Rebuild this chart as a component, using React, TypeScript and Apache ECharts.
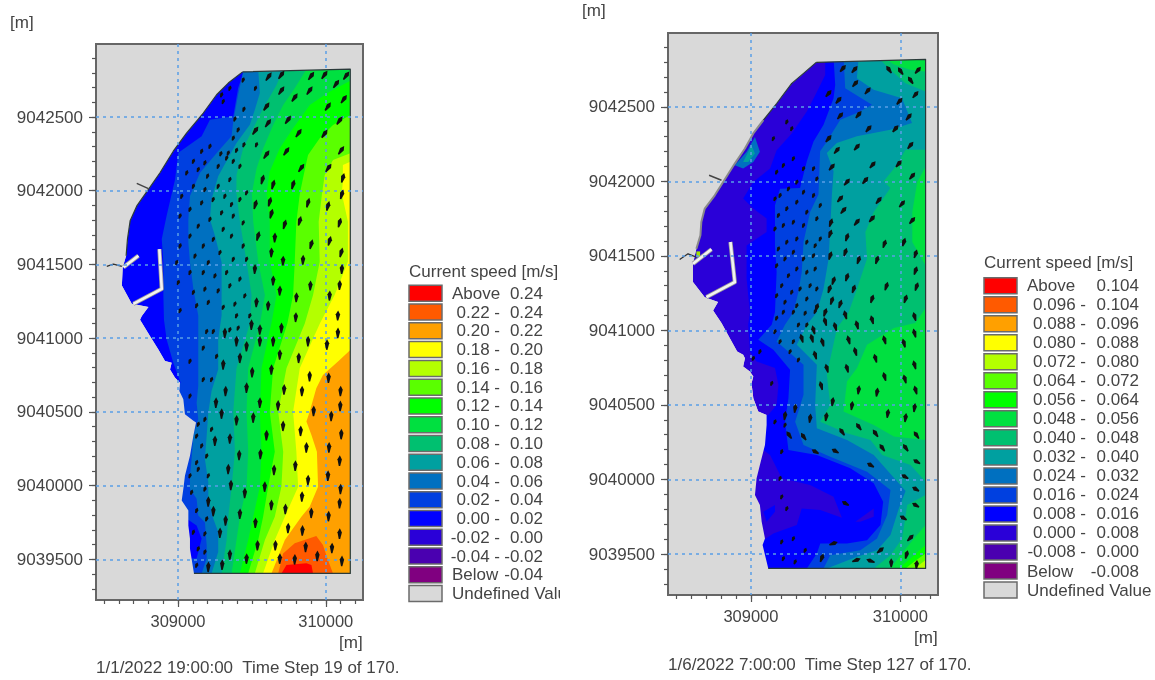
import React, { useEffect, useRef } from "react";
import * as echarts from "echarts";

// All map data are metres east / north of this origin.
const X0 = 309000;
const Y0 = 9040000;
type P = number[];

const COL = {
  red: "#ff0000", c22: "#ff5a00", c20: "#ffa000", c18: "#ffff00", c16: "#b4ff00", c14: "#5aff00",
  c12: "#00ff00", c10: "#00e040", c08: "#00c070", c06: "#00a0a0", c04: "#0070c0", c02: "#0040e0",
  c00: "#0000ff", m02: "#2a00d8", m04: "#4a00b0", below: "#800080", undef: "#d9d9d9",
};
const LEGEND_COLORS = [COL.red, COL.c22, COL.c20, COL.c18, COL.c16, COL.c14, COL.c12, COL.c10, COL.c08, COL.c06, COL.c04, COL.c02, COL.c00, COL.m02, COL.m04, COL.below, COL.undef];

const LEGEND_A = [["Above", "0.24"], ["0.22 -", "0.24"], ["0.20 -", "0.22"], ["0.18 -", "0.20"], ["0.16 -", "0.18"], ["0.14 -", "0.16"], ["0.12 -", "0.14"], ["0.10 -", "0.12"], ["0.08 -", "0.10"], ["0.06 -", "0.08"], ["0.04 -", "0.06"], ["0.02 -", "0.04"], ["0.00 -", "0.02"], ["-0.02 -", "0.00"], ["-0.04 -", "-0.02"], ["Below", "-0.04"]];
const LEGEND_B = [["Above", "0.104"], ["0.096 -", "0.104"], ["0.088 -", "0.096"], ["0.080 -", "0.088"], ["0.072 -", "0.080"], ["0.064 -", "0.072"], ["0.056 -", "0.064"], ["0.048 -", "0.056"], ["0.040 -", "0.048"], ["0.032 -", "0.040"], ["0.024 -", "0.032"], ["0.016 -", "0.024"], ["0.008 -", "0.016"], ["0.000 -", "0.008"], ["-0.008 -", "0.000"], ["Below", "-0.008"]];

const X_LABELS = [309000, 310000];
const Y_LABELS = [9039500, 9040000, 9040500, 9041000, 9041500, 9042000, 9042500];
const X_MINOR = [308500, 308600, 308700, 308800, 308900, 309000, 309100, 309200, 309300, 309400, 309500, 309600, 309700, 309800, 309900, 310000, 310100, 310200];
const Y_MINOR = [9039300, 9039400, 9039500, 9039600, 9039700, 9039800, 9039900, 9040000, 9040100, 9040200, 9040300, 9040400, 9040500, 9040600, 9040700, 9040800, 9040900, 9041000, 9041100, 9041200, 9041300, 9041400, 9041500, 9041600, 9041700, 9041800, 9041900, 9042000, 9042100, 9042200, 9042300, 9042400, 9042500, 9042600, 9042700, 9042800, 9042900];

// ---------- left map ----------
const A_RIGHT = 1166, A_BOTTOM = -595, A_TOP = 2824;
const A_COAST: P[] = [[437,2806],[340,2730],[261,2651],[171,2527],[59,2392],[-32,2268],[-122,2122],[-200,2009],[-279,1897],[-324,1796],[-342,1672],[-351,1559],[-374,1481],[-380,1357],[-313,1233],[-200,1211],[-245,1150],[-257,1126],[-189,1014],[-133,923],[-88,845],[-43,833],[-54,788],[-20,732],[14,698],[9,642],[36,586],[47,485],[104,440],[122,428],[104,338],[81,203],[47,68],[36,-22],[25,-100],[70,-168],[70,-269],[81,-359],[81,-427],[108,-595]];
const A_C02: P[] = [[452,2830],[407,2696],[374,2505],[216,2482],[160,2370],[2,2257],[-20,2077],[-77,1830],[-110,1672],[-99,1515],[-99,1290],[-95,1126],[-77,991],[-32,833],[2,743],[18,698],[-300,698],[-300,-700]];
const A_C04: P[] = [[446,2830],[407,2651],[374,2471],[362,2370],[272,2268],[149,2122],[81,1964],[70,1807],[70,1649],[81,1515],[104,1334],[137,1154],[137,991],[137,833],[137,676],[126,563],[137,451],[104,338],[92,181],[81,68],[81,-22],[126,-89],[137,-202],[182,-247],[194,-404],[194,-494],[160,-595]];
const A_C06: P[] = [[542,2830],[554,2662],[520,2550],[486,2448],[396,2324],[272,2099],[227,1942],[216,1807],[250,1694],[295,1515],[295,1334],[295,1154],[272,991],[272,788],[227,642],[205,496],[194,338],[182,181],[205,23],[205,-89],[239,-224],[272,-314],[272,-449],[227,-595]];
const A_C08: P[] = [[714,2830],[667,2717],[577,2559],[509,2424],[441,2288],[396,2107],[395,1990],[419,1790],[464,1519],[498,1293],[486,1100],[396,796],[374,502],[385,231],[363,-7],[340,-210],[329,-368],[295,-594]];
const A_C10: P[] = [[874,2830],[790,2695],[712,2582],[644,2446],[577,2288],[532,2152],[500,1983],[509,1790],[543,1519],[588,1293],[555,1100],[475,796],[464,502],[475,231],[464,-7],[419,-210],[396,-368],[363,-594]];
const A_C12: P[] = [[1166,2745],[1026,2672],[892,2582],[779,2424],[689,2288],[621,2130],[600,1983],[621,1790],[621,1519],[667,1293],[632,1100],[565,796],[554,502],[565,231],[554,-7],[509,-210],[475,-368],[419,-594]];
const A_C14: P[] = [[1166,2514],[1049,2446],[959,2356],[880,2243],[846,2085],[825,1983],[801,1790],[790,1519],[779,1293],[740,1100],[644,796],[621,502],[655,231],[610,-7],[576,-210],[543,-368],[475,-594]];
const A_C16: P[] = [[1166,2254],[1049,2209],[993,2107],[975,1983],[952,1790],[959,1519],[914,1293],[858,1100],[734,796],[678,502],[712,231],[700,-7],[655,-210],[588,-368],[520,-594]];
const A_C18: P[] = [[1166,2197],[1116,2175],[1116,2062],[1108,1983],[1150,1790],[1150,1519],[1060,1293],[960,1100],[824,796],[779,502],[801,231],[813,-7],[723,-210],[655,-368],[576,-594]];
const A_C20: P[] = [[1166,920],[1094,853],[981,751],[936,661],[891,502],[869,435],[903,344],[940,231],[948,-7],[891,-142],[835,-210],[723,-368],[633,-594]];
const A_C22: P[] = [[678,-595],[711,-459],[790,-391],[936,-341],[981,-402],[1015,-504],[1049,-595]];
const A_C24: P[] = [[700,-595],[734,-538],[869,-526],[903,-538],[914,-595]];
const A_BLUE_PATCH: P[] = [[59,-224],[126,-269],[160,-359],[126,-494],[70,-494]];
const A_WALL_1: P[] = [[-369,1481],[-268,1559]];
const A_WALL_2: P[] = [[-126,1604],[-110,1334],[-302,1233]];
const A_JETTY: P[] = [[-482,1487],[-437,1503],[-380,1487]];
const A_GROIN: P[] = [[-279,2050],[-200,2014]];

const A_ARROWS_NE: P[] = [[902,2779],[992,2786],[1139,2781],[1071,2725],[891,2680],[790,2633],[1123,2622],[1015,2572],[1094,2477],[992,2387],[817,2392],[745,2482],[1105,2275],[734,2268],[1019,2156],[835,2156],[599,2246],[610,2459],[700,2680],[700,2786],[614,2775],[599,2572],[524,2408]];
const A_ARROWS_MID: P[] = [[1116,2088],[779,2043],[644,2043],[572,2077],[1109,1976],[880,1919],[1015,1897],[621,1926],[524,1908],[1094,1784],[824,1796],[722,1773],[632,1845],[902,1638],[1026,1661],[1105,1582],[542,1694]];
const A_ARROWS_N: P[] = [[655,1683],[846,1532],[632,1582],[711,1526],[1109,1469],[1094,1361],[896,1357],[644,1391],[801,1278],[689,1323],[1026,1289],[531,1244],[610,1222],[520,1469],[1082,1154],[797,1143]];
const A_ARROWS_S: P[] = [[1082,1036],[1008,957],[880,980],[700,1070],[554,1059],[497,1092],[644,980],[554,980],[464,946],[396,980],[317,1036],[689,890],[817,867],[419,867],[306,822],[632,788],[502,770],[891,743],[1019,732],[1100,642],[839,642],[718,653],[464,665],[322,642],[257,563],[918,507],[1098,541],[677,545],[554,563],[295,489],[1037,473],[509,462],[396,444],[711,406],[830,372],[1105,350],[599,343],[351,320],[250,305],[1022,260],[869,260],[1094,170],[794,136],[558,215],[414,208],[650,107],[340,113],[1015,68],[880,39],[1100,-22],[587,-6],[358,5],[452,-49],[839,-73],[1094,-118],[632,-130],[727,-157],[205,-107],[239,-172],[902,-184],[1019,-206],[419,-190],[322,-235],[1094,-325],[842,-303],[745,-287],[524,-251],[284,-319],[1042,-422],[659,-404],[538,-404],[351,-467],[943,-476],[864,-415],[689,-494],[790,-499],[1109,-510],[464,-494],[299,-535],[205,-550]];
const A_ARROWS_SMALL: P[] = [[441,2752],[524,2696],[446,2554],[385,2487],[407,2414],[374,2358],[446,2313],[396,2275],[340,2257],[290,2252],[531,2313],[419,2167],[374,2201],[464,1987],[419,1942],[362,1908],[295,2651],[351,2696],[306,2606],[216,2302],[160,2268],[104,2201],[182,2190],[272,2167],[329,2223],[137,2145],[200,2100],[59,2122],[25,1964],[104,2032],[182,2009],[272,2032],[351,2077],[317,1964],[238,1942],[160,1919],[81,1875],[295,1852],[374,1830],[441,1784],[216,1807],[137,1762],[14,1830],[306,1740],[239,1672],[362,1694],[441,1627],[171,1627],[81,1694],[14,1627],[284,1582],[374,1537],[205,1515],[115,1559],[464,1537],[-9,1515],[329,1447],[250,1424],[171,1447],[81,1447],[2,1379],[419,1402],[351,1357],[272,1323],[182,1334],[104,1312],[452,1289],[385,1233],[306,1211],[205,1244],[126,1222],[14,1188],[486,1154],[396,1154],[407,1070],[351,1059],[239,1047],[194,1047],[171,935],[261,878],[81,845],[171,721],[227,721],[81,609],[137,417],[182,451],[126,338],[160,271],[227,383],[126,158],[194,203],[81,68],[137,113],[205,68],[182,-22],[92,-44],[126,-168],[194,-224],[104,-314],[182,-325],[137,-427],[182,-449],[126,-539]];

// ---------- right map ----------
const B_RIGHT = 1169, B_BOTTOM = -597, B_TOP = 2818;
const B_COAST: P[] = [[437,2798],[352,2724],[273,2657],[172,2522],[83,2410],[16,2321],[-40,2220],[-108,2119],[-186,1996],[-242,1906],[-309,1817],[-332,1727],[-338,1638],[-365,1548],[-388,1447],[-388,1324],[-309,1223],[-220,1190],[-253,1134],[-197,1049],[-141,948],[-92,859],[-52,836],[-40,814],[-52,758],[-7,724],[16,691],[4,646],[16,545],[49,456],[105,433],[105,366],[94,232],[60,97],[38,8],[27,-104],[60,-172],[72,-284],[94,-396],[78,-440],[116,-597]];
const B_C1: P[] = [[497,2830],[497,2714],[430,2578],[374,2469],[273,2320],[172,2209],[128,2086],[16,1996],[-52,1884],[16,1817],[105,1750],[105,1660],[-29,1570],[-29,1346],[-7,1122],[-18,1038],[-7,859],[38,792],[161,747],[184,635],[172,500],[116,433],[-300,433],[-300,-700]];
const B_LOW_1: P[] = [[-7,209],[83,198],[128,164],[206,8],[396,-37],[553,-116],[609,-257],[464,-205],[340,-194],[307,-306],[150,-362],[83,-407],[-7,-418]];
const B_LOW_2: P[] = [[699,-284],[822,-194],[822,-250],[732,-284]];
const B_BLUE_SPOT: P[] = [[83,-216],[161,-172],[161,-216],[105,-284]];
const B_C2: P[] = [[553,2830],[564,2647],[553,2558],[486,2380],[419,2268],[374,2134],[329,1956],[195,1951],[161,1839],[161,1570],[172,1391],[161,1122],[139,1038],[49,937],[150,870],[262,736],[251,545],[228,388],[251,198],[441,164],[665,75],[822,-26],[885,-149],[867,-306],[777,-407],[643,-429],[464,-429],[441,-496],[374,-597]];
const B_C3: P[] = [[620,2830],[631,2625],[810,2514],[709,2458],[598,2413],[508,2268],[463,2201],[452,1911],[396,1794],[352,1593],[340,1391],[318,1257],[284,1122],[228,1038],[172,926],[352,769],[352,568],[296,388],[352,232],[531,153],[777,52],[934,-71],[912,-239],[844,-396],[732,-474],[531,-508],[486,-597]];
const B_C4: P[] = [[721,2830],[709,2692],[821,2614],[1011,2558],[1078,2391],[933,2346],[709,2302],[575,2257],[508,2190],[553,2068],[542,1911],[520,1481],[486,1279],[441,1122],[374,1038],[307,904],[441,769],[430,500],[441,344],[643,265],[822,164],[1035,-77],[990,-194],[934,-373],[844,-474],[710,-519],[508,-597]];
const B_C5: P[] = [[1169,2212],[1034,2212],[978,2112],[888,2000],[933,1956],[822,1794],[766,1660],[777,1481],[710,1279],[654,1122],[576,1016],[542,859],[508,702],[531,500],[464,388],[643,310],[800,265],[878,164],[1068,97],[1169,-15]];
const B_C5_LOW: P[] = [[1169,-104],[1046,-172],[1012,-396],[934,-508],[822,-597],[1169,-597]];
const B_C5_TOP: P[] = [[855,2825],[933,2748],[1034,2658],[1169,2603],[1169,2825]];
const B_C6_TOP: P[] = [[900,2825],[955,2786],[1067,2748],[1169,2736],[1169,2825]];
const B_C6_STRIP: P[] = [[1169,2097],[1113,1996],[1080,1794],[1080,1593],[1169,1436]];
const B_C6_MAIN: P[] = [[777,904],[710,747],[643,657],[620,456],[822,366],[957,288],[1169,265],[1169,1150],[1100,1050],[957,1016]];
const B_C6_LOW: P[] = [[1169,-306],[1091,-396],[1001,-508],[934,-597],[1169,-597]];
const B_C7_LOW: P[] = [[1169,-440],[1068,-530],[990,-597],[1169,-597]];
const B_C8_LOW: P[] = [[1169,-496],[1091,-552],[1035,-597],[1169,-597]];
const B_C9_LOW: P[] = [[1169,-541],[1124,-575],[1102,-597],[1169,-597]];
const B_SPOT_1: P[] = [[-108,2108],[-29,2198],[27,2298],[60,2198],[16,2130],[-52,2086]];
const B_SPOT_2: P[] = [[-52,2130],[4,2242],[27,2186],[-18,2130]];
const B_SPOT_3: P[] = [[-365,1530],[-340,1530],[-340,1490],[-365,1490]];
const B_WALL_1: P[] = [[-388,1447],[-264,1544]];
const B_WALL_2: P[] = [[-137,1593],[-108,1324],[-298,1223]];
const B_JETTY: P[] = [[-477,1476],[-421,1514],[-365,1492]];
const B_GROIN: P[] = [[-280,2041],[-197,2007]];
const B_SHORE: P[] = [[83,2410],[16,2321],[-40,2220],[-108,2119],[-186,1996],[-242,1906],[-309,1817],[-332,1727],[-338,1638],[-365,1548]];

const B_ARROWS_NW: P[] = [[923,2751],[1001,2740],[1068,2679]];
const B_ARROWS_NE: P[] = [[1118,2746],[1102,2583],[995,2538],[1057,2433],[788,2354],[968,2354],[1068,2242],[710,2231],[576,2209],[721,2448],[782,2608],[699,2657],[587,2545],[598,2440],[520,2287],[694,2751],[616,2758],[520,2590],[990,2119],[815,2112],[1080,2036],[766,2007],[643,1996],[542,2097],[598,1884],[856,1873],[1012,1850],[620,1806],[1080,1738],[811,1750],[710,1727]];
const B_ARROWS_NNE: P[] = [[1024,1593],[894,1582],[643,1626],[531,1649],[535,1723],[1102,1514],[844,1474],[721,1474],[632,1526],[531,1503],[1102,1402],[907,1297],[1109,1295],[1035,1212],[811,1212],[688,1279],[643,1358],[553,1335],[526,1279],[542,1201],[598,1178],[497,1122],[441,1156]];
const B_ARROWS_NNW: P[] = [[1095,1094],[811,1072],[632,1105],[710,1038],[497,1060],[419,1004],[564,1027],[1095,982],[894,937],[1024,915],[654,937],[479,922],[408,948],[340,948],[699,859],[833,814],[430,836],[1095,769],[643,747],[508,747],[894,691],[1030,675],[470,630],[1102,601]];
const B_ARROWS_N: P[] = [[721,601],[844,586],[547,523],[676,496],[1095,483],[916,444],[1035,415],[504,422],[396,411],[296,478],[228,429]];
const B_ARROWS_NW2: P[] = [[721,355],[833,310],[1107,299],[878,214],[1035,214],[609,321],[352,288],[255,299]];
const B_ARROWS_W: P[] = [[430,187],[564,191],[800,97],[1109,120],[1030,19],[1102,-64],[1102,-172],[632,-160],[1019,-257]];
// east, north, direction in degrees clockwise from north
const B_ARROWS_MISC: P[] = [[1068,-391,45],[1042,-503,15],[1109,-570,5],[939,-559,0],[800,-546,-70],[706,-541,70],[867,-474,50],[553,-429,70],[475,-525,20]];
const B_ARROWS_SMALL: P[] = [[240,2399],[273,2354],[150,2287],[217,2108],[172,2063],[284,2153],[352,2086],[419,2086],[441,2018],[307,1996],[251,1951],[195,1906],[352,1929],[419,1906],[161,1884],[464,1839],[307,1862],[240,1817],[184,1772],[374,1794],[441,1750],[284,1727],[352,1705],[217,1705],[161,1682],[464,1615],[307,1615],[374,1593],[240,1593],[430,1570],[184,1548],[284,1526],[352,1481],[228,1481],[419,1503],[172,1436],[307,1414],[374,1391],[251,1369],[430,1414],[206,1302],[329,1279],[396,1302],[273,1257],[172,1234],[441,1279],[374,1212],[307,1167],[228,1190],[217,1123],[284,1123],[363,1116],[430,1128],[172,1083],[318,1038],[374,1038],[161,993],[195,926],[284,926],[262,859],[318,803],[60,859],[16,814],[139,646],[228,366],[161,388],[206,187],[195,8],[206,-116],[240,-194],[284,-396],[206,-418],[363,-474],[217,-530],[296,-552]];

// ---------- helpers ----------
type Layer = { color: string; pts: P[] };
const rightOf = (pts: P[], r: number, b: number, t: number): P[] => [...pts, [r, b], [r, t]];
const arrowSet = (pts: P[], dir: number, len: number) => pts.map((p) => [p[0] + X0, p[1] + Y0, dir, len]);

const A_DOMAIN: P[] = [...A_COAST, [A_RIGHT, A_BOTTOM], [A_RIGHT, A_TOP]];
const B_DOMAIN: P[] = [...B_COAST, [B_RIGHT, B_BOTTOM], [B_RIGHT, B_TOP]];
const FRAME: P[] = [[-544, 2985], [1240, 2985], [1240, -768], [-544, -768], [-544, 2985]];

const a = (p: P[]) => rightOf(p, A_RIGHT, A_BOTTOM, A_TOP + 10);
const b = (p: P[]) => rightOf(p, B_RIGHT, B_BOTTOM, B_TOP + 12);
const A_LAYERS: Layer[] = [
  { color: COL.c00, pts: A_DOMAIN }, { color: COL.c02, pts: a(A_C02) }, { color: COL.c00, pts: A_BLUE_PATCH },
  { color: COL.c04, pts: a(A_C04) }, { color: COL.c06, pts: a(A_C06) }, { color: COL.c08, pts: a(A_C08) },
  { color: COL.c10, pts: a(A_C10) }, { color: COL.c12, pts: a(A_C12) }, { color: COL.c14, pts: a(A_C14) },
  { color: COL.c16, pts: a(A_C16) }, { color: COL.c18, pts: a(A_C18) }, { color: COL.c20, pts: a(A_C20) },
  { color: COL.c22, pts: A_C22 }, { color: COL.red, pts: A_C24 },
  { color: COL.undef, pts: [...FRAME, ...A_DOMAIN, A_DOMAIN[0]] },
];
const B_LAYERS: Layer[] = [
  { color: COL.m02, pts: B_DOMAIN }, { color: COL.c00, pts: b(B_C1) }, { color: COL.m02, pts: B_LOW_1 },
  { color: COL.m02, pts: B_LOW_2 }, { color: COL.c00, pts: B_BLUE_SPOT }, { color: COL.c02, pts: b(B_C2) },
  { color: COL.c04, pts: b(B_C3) }, { color: COL.c06, pts: b(B_C4) }, { color: COL.c08, pts: B_C5 },
  { color: COL.c08, pts: B_C5_LOW }, { color: COL.c08, pts: B_C5_TOP }, { color: COL.c10, pts: B_C6_TOP },
  { color: COL.c10, pts: B_C6_STRIP }, { color: COL.c10, pts: B_C6_MAIN }, { color: COL.c10, pts: B_C6_LOW },
  { color: COL.c12, pts: B_C7_LOW }, { color: COL.c14, pts: B_C8_LOW }, { color: COL.c16, pts: B_C9_LOW },
  { color: COL.c04, pts: B_SPOT_1 }, { color: COL.c06, pts: B_SPOT_2 }, { color: "#a0e000", pts: B_SPOT_3 },
  { color: COL.undef, pts: [...FRAME, ...B_DOMAIN, B_DOMAIN[0]] },
];

type Line = { color: string; width: number; pts: P[] };
const WALL_EDGE = "#9a9a9a";
const WALL = "#f2f2f2";
const A_LINES: Line[] = [
  { color: "#2a3a3a", width: 1.2, pts: A_COAST.slice(0, 12) },
  { color: "#2a3a3a", width: 1.2, pts: [[437, 2806], [A_RIGHT, A_TOP], [A_RIGHT, A_BOTTOM], [108, A_BOTTOM]] },
  { color: WALL_EDGE, width: 4.2, pts: A_WALL_1 }, { color: WALL_EDGE, width: 4.2, pts: A_WALL_2 },
  { color: WALL, width: 2.6, pts: A_WALL_1 }, { color: WALL, width: 2.6, pts: A_WALL_2 },
  { color: "#333333", width: 1.3, pts: A_JETTY }, { color: "#444444", width: 1.5, pts: A_GROIN },
];
const B_LINES: Line[] = [
  { color: "#2a3a3a", width: 1.2, pts: B_COAST.slice(0, 5) },
  { color: "#2a3a3a", width: 1.2, pts: [[437, 2798], [B_RIGHT, B_TOP], [B_RIGHT, B_BOTTOM], [116, B_BOTTOM]] },
  { color: "#8a8a8a", width: 2, pts: B_SHORE },
  { color: WALL_EDGE, width: 4.2, pts: B_WALL_1 }, { color: WALL_EDGE, width: 4.2, pts: B_WALL_2 },
  { color: WALL, width: 2.6, pts: B_WALL_1 }, { color: WALL, width: 2.6, pts: B_WALL_2 },
  { color: "#333333", width: 1.3, pts: B_JETTY }, { color: "#444444", width: 1.5, pts: B_GROIN },
];

const A_VECTORS = [
  ...arrowSet(A_ARROWS_NE, 35, 68), ...arrowSet(A_ARROWS_MID, 15, 68), ...arrowSet(A_ARROWS_N, 3, 68),
  ...arrowSet(A_ARROWS_S, 2, 72), ...arrowSet(A_ARROWS_SMALL, 20, 38),
];
const B_VECTORS = [
  ...arrowSet(B_ARROWS_NW, -35, 60), ...arrowSet(B_ARROWS_NE, 40, 60), ...arrowSet(B_ARROWS_NNE, 18, 60),
  ...arrowSet(B_ARROWS_NNW, -15, 62), ...arrowSet(B_ARROWS_N, 8, 62), ...arrowSet(B_ARROWS_NW2, -35, 60),
  ...arrowSet(B_ARROWS_W, -60, 54), ...B_ARROWS_MISC.map((p) => [p[0] + X0, p[1] + Y0, p[2], 60]),
  ...arrowSet(B_ARROWS_SMALL, 22, 36),
];

const toCoord = (api: any, p: P) => api.coord([p[0] + X0, p[1] + Y0]);

function mapSeries(ax: number, layers: Layer[], lines: Line[], vectors: number[][]) {
  const base = { coordinateSystem: "cartesian2d", xAxisIndex: ax, yAxisIndex: ax, clip: true, silent: true, animation: false };
  return [
    {
      ...base, type: "custom", z: 2, encode: { x: 0, y: 1 },
      data: layers.map((l, i) => [l.pts[0][0] + X0, l.pts[0][1] + Y0, i]),
      renderItem: (_: any, api: any) => {
        const l = layers[api.value(2)];
        return { type: "polygon", shape: { points: l.pts.map((p) => toCoord(api, p)) }, style: { fill: l.color } };
      },
    },
    {
      ...base, type: "custom", z: 3, encode: { x: 0, y: 1 },
      data: lines.map((l, i) => [l.pts[0][0] + X0, l.pts[0][1] + Y0, i]),
      renderItem: (_: any, api: any) => {
        const l = lines[api.value(2)];
        return { type: "polyline", shape: { points: l.pts.map((p) => toCoord(api, p)) }, style: { fill: "none", stroke: l.color, lineWidth: l.width, lineJoin: "round" } };
      },
    },
    {
      ...base, type: "custom", z: 6, encode: { x: 0, y: 1 }, data: vectors,
      renderItem: (_: any, api: any) => {
        const x = api.value(0), y = api.value(1), d = (api.value(2) * Math.PI) / 180, l = api.value(3) / 2;
        const tip = api.coord([x + Math.sin(d) * l, y + Math.cos(d) * l]);
        const tail = api.coord([x - Math.sin(d) * l, y - Math.cos(d) * l]);
        const ux = tip[0] - tail[0], uy = tip[1] - tail[1];
        const n = Math.hypot(ux, uy) || 1;
        const px = -uy / n, py = ux / n;
        const w = n > 7 ? 2.2 : 1.7;
        const neck = [tail[0] + ux * 0.62, tail[1] + uy * 0.62];
        return {
          type: "polygon",
          shape: { points: [
            [tail[0] + px * 0.7, tail[1] + py * 0.7], [neck[0] + px * w, neck[1] + py * w], tip,
            [neck[0] - px * w, neck[1] - py * w], [tail[0] - px * 0.7, tail[1] - py * 0.7],
          ] },
          style: { fill: "#101010" },
        };
      },
    },
  ];
}

const FONT = "'Liberation Sans', Arial, sans-serif";
const TXT = "#444444";
const FS = 17;

function label(x: number, y: number, text: string, align = "left", z = 30) {
  return { type: "text", x, y, z, silent: true, style: { text, x: 0, y: 0, fill: TXT, font: `${FS}px ${FONT}`, textAlign: align, textVerticalAlign: "middle" } };
}

function legend(left: number, titleY: number, firstY: number, step: number, labels: string[][], textLeft: number, dashRight: number, right: number) {
  const out: any[] = [label(left, titleY, "Current speed [m/s]")];
  LEGEND_COLORS.forEach((c, i) => {
    const y = firstY + i * step;
    out.push({ type: "rect", z: 20, silent: true, shape: { x: left, y: y - 8, width: 33, height: 16 }, style: { fill: c, stroke: "#6b6b6b", lineWidth: 1.5 } });
    if (i === 16) {
      out.push(label(textLeft, y, "Undefined Value"));
    } else {
      const [l, r] = labels[i];
      const word = l === "Above" || l === "Below";
      out.push(word ? label(textLeft, y, l) : label(dashRight, y, l, "right"));
      out.push(label(right, y, r, "right"));
    }
  });
  return out;
}

function xAxes(grid: number) {
  const range = { gridIndex: grid, type: "value", min: 308445, max: 310252, position: "bottom" };
  return [
    { ...range, z: 5, axisLine: { show: false },
      axisTick: { show: true, length: 7, lineStyle: { color: "#555", width: 1.2 }, customValues: X_LABELS },
      axisLabel: { show: true, margin: 12, color: TXT, fontFamily: "Liberation Sans", fontSize: 16.5, customValues: X_LABELS, formatter: (v: number) => String(v) },
      splitLine: { show: true, lineStyle: { color: "#5a9fe6", width: 1.5, type: [3, 4] } } },
    { ...range, z: 1, axisLine: { show: false }, splitLine: { show: false }, axisLabel: { show: false },
      axisTick: { show: true, length: 4, lineStyle: { color: "#555", width: 1.2 }, customValues: X_MINOR } },
  ];
}
function yAxes(grid: number) {
  const range = { gridIndex: grid, type: "value", min: 9039225, max: 9042995, position: "left" };
  return [
    { ...range, z: 5, axisLine: { show: false },
      axisTick: { show: true, length: 7, lineStyle: { color: "#555", width: 1.2 }, customValues: Y_LABELS },
      axisLabel: { show: true, margin: 13, color: TXT, fontFamily: "Liberation Sans", fontSize: FS, customValues: Y_LABELS, formatter: (v: number) => String(v) },
      splitLine: { show: true, lineStyle: { color: "#5a9fe6", width: 1.5, type: [3, 4] } } },
    { ...range, z: 1, axisLine: { show: false }, splitLine: { show: false }, axisLabel: { show: false },
      axisTick: { show: true, length: 4, lineStyle: { color: "#555", width: 1.2 }, customValues: Y_MINOR } },
  ];
}

export default function App() {
  const ref = useRef<HTMLDivElement>(null);
  useEffect(() => {
    document.body.style.margin = "0";
    const chart = echarts.init(ref.current!, undefined, { renderer: "svg" });
    const frame = { show: true, backgroundColor: COL.undef, borderColor: "#666666", borderWidth: 2, containLabel: false };
    const ax = xAxes(0), ay = yAxes(0), bx = xAxes(1), by = yAxes(1);
    chart.setOption({
      animation: false,
      backgroundColor: "#ffffff",
      grid: [
        { ...frame, left: 96, top: 44, width: 267, height: 556 },
        { ...frame, left: 668, top: 33, width: 270, height: 562 },
      ],
      xAxis: [ax[0], bx[0], ax[1], bx[1]],
      yAxis: [ay[0], by[0], ay[1], by[1]],
      series: [...mapSeries(0, A_LAYERS, A_LINES, A_VECTORS), ...mapSeries(1, B_LAYERS, B_LINES, B_VECTORS)],
      graphic: [
        ...legend(409, 271, 293.3, 18.77, LEGEND_A, 452, 500, 543),
        ...legend(984, 262, 285.7, 19.02, LEGEND_B, 1027, 1086, 1139),
        { type: "rect", z: 40, silent: true, shape: { x: 560, y: 584, width: 16, height: 20 }, style: { fill: "#fff" } },
        label(10, 22, "[m]"), label(339, 642, "[m]"),
        label(96, 667, "1/1/2022 19:00:00  Time Step 19 of 170."),
        label(582, 10, "[m]"), label(914, 637, "[m]"),
        label(668, 664, "1/6/2022 7:00:00  Time Step 127 of 170."),
      ],
    });
    return () => chart.dispose();
  }, []);
  return <div ref={ref} style={{ position: "fixed", left: 0, top: 0, width: 1155, height: 680, filter: "blur(0.5px)" }} />;
}
